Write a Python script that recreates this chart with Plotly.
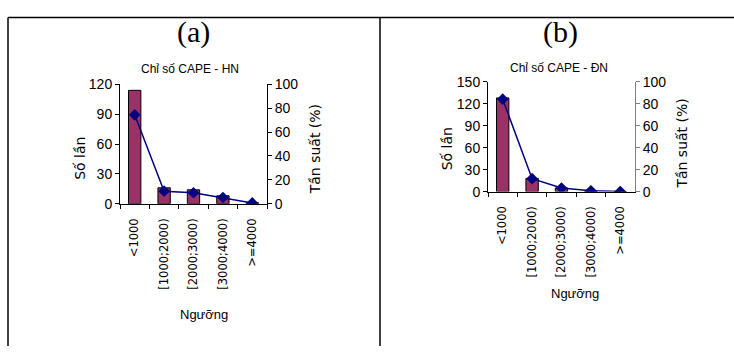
import plotly.graph_objects as go

categories = ["<1000", "[1000;2000)", "[2000;3000)", "[3000;4000)", ">=4000"]
counts_hn = [114, 16, 14, 8, 1]
freq_hn = [74.5, 10.5, 9.2, 5.2, 0.7]
counts_dn = [128, 18, 5, 1, 0]
freq_dn = [84.2, 11.8, 3.3, 0.7, 0.0]

W, H = 734, 354
BAR = "#993366"
LINE = "#000080"
FONT = "Liberation Sans, Arial"
WIDE = "DejaVu Sans, Verdana"

def px(x):
    return x / W

def py(y):
    return 1 - y / H

fig = go.Figure()
fig.add_trace(go.Bar(x=categories, y=counts_hn, xaxis="x", yaxis="y",
                     marker=dict(color=BAR, line=dict(color="black", width=1)),
                     width=0.42, showlegend=False))
fig.add_trace(go.Scatter(x=categories, y=freq_hn, xaxis="x", yaxis="y2", mode="lines+markers",
                         line=dict(color=LINE, width=1.5),
                         marker=dict(symbol="diamond", size=9, color=LINE), showlegend=False))
fig.add_trace(go.Bar(x=categories, y=counts_dn, xaxis="x2", yaxis="y3",
                     marker=dict(color=BAR, line=dict(color="black", width=1)),
                     width=0.42, showlegend=False))
fig.add_trace(go.Scatter(x=categories, y=freq_dn, xaxis="x2", yaxis="y4", mode="lines+markers",
                         line=dict(color=LINE, width=1.5),
                         marker=dict(symbol="diamond", size=9, color=LINE), showlegend=False))

tickfont = dict(family=FONT, size=14, color="black")
xtickfont = dict(family=WIDE, size=11.5, color="black")

def xax(domain, anchor):
    return dict(domain=domain, anchor=anchor, type="category", tickson="boundaries",
                ticks="outside", ticklen=4, tickcolor="black", showline=True,
                linecolor="black", linewidth=1, showgrid=False, tickangle=-90,
                tickfont=xtickfont, zeroline=False, fixedrange=True,
                ticklabelstandoff=9)

def yax(domain, anchor, rng, dtick, side="left", overlay=None, color="black"):
    d = dict(domain=domain, anchor=anchor, range=rng, dtick=dtick, tick0=0,
             ticks="outside", ticklen=4, tickcolor=color, showline=True,
             linecolor=color, linewidth=1, showgrid=False, zeroline=False,
             tickfont=tickfont, side=side, fixedrange=True)
    if overlay:
        d["overlaying"] = overlay
    return d

ydom_a = [py(205), py(80)]
ydom_b = [py(192.3), py(77.3)]

fig.update_layout(
    width=W, height=H, margin=dict(l=0, r=0, t=0, b=0),
    paper_bgcolor="white", plot_bgcolor="rgba(0,0,0,0)",
    xaxis=xax([px(120), px(267)], "y"),
    yaxis=yax(ydom_a, "x", [0, 120], 30),
    yaxis2=yax(ydom_a, "x", [0, 100], 20, side="right", overlay="y"),
    xaxis2=xax([px(488), px(635)], "y3"),
    yaxis3=yax(ydom_b, "x2", [0, 150], 30),
    yaxis4=yax(ydom_b, "x2", [0, 100], 20, side="right", overlay="y3", color="#808080"),
)

def ann(text, x, y, size, family=FONT, angle=0):
    fig.add_annotation(text=text, x=px(x), y=py(y), xref="paper", yref="paper",
                       showarrow=False, textangle=angle,
                       font=dict(family=family, size=size, color="black"),
                       xanchor="center", yanchor="middle")

serif = "Liberation Serif, Times New Roman, serif"
ann("(a)", 193, 25, 30, serif)
ann("(b)", 560, 25, 30, serif)
ann("Chỉ số CAPE - HN", 190, 64, 12)
ann("Chỉ số CAPE - ĐN", 559, 63, 12)
ann("Số lần", 80, 158, 14, WIDE, angle=-90)
ann("Tần suất (%)", 315, 148, 14, WIDE, angle=-90)
ann("Số lần", 447, 148, 14, WIDE, angle=-90)
ann("Tần suất (%)", 682, 142, 14, WIDE, angle=-90)
ann("Ngưỡng", 204, 321, 13)
ann("Ngưỡng", 575, 299, 13)

# table borders
for x0, y0, x1, y1 in [(8, 10, 734, 10), (8, 10, 8, 354), (380, 10, 380, 354)]:
    fig.add_shape(type="line", xref="paper", yref="paper",
                  x0=px(x0), y0=py(y0), x1=px(x1), y1=py(y1),
                  line=dict(color="black", width=1.5))

fig.write_html("out.html")
